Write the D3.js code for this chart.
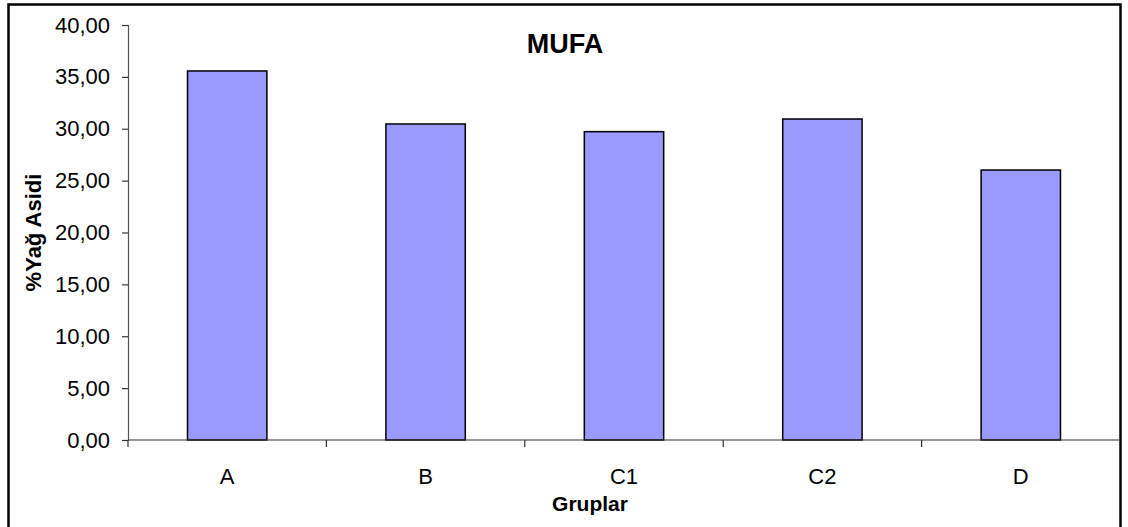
<!DOCTYPE html>
<html>
<head>
<meta charset="utf-8">
<script src="https://cdn.jsdelivr.net/npm/d3@7"></script>
<style>
  html, body { margin: 0; padding: 0; background: #fff; }
  svg { display: block; font-family: "Liberation Sans", Arial, sans-serif; }
</style>
</head>
<body>
<svg id="chart" width="1128" height="527"></svg>
<script>
// MUFA share per group
const categories = ["A", "B", "C1", "C2", "D"];
const values = [35.57, 30.46, 29.72, 30.94, 26.02];
const yTicks = [0, 5, 10, 15, 20, 25, 30, 35, 40];
const titleText = "MUFA";
const xTitle = "Gruplar";
const yTitle = "%Yağ Asidi";

const svg = d3.select("#chart");
const plot = { left: 128, right: 1120, top: 25, bottom: 440 };

// outer frame
svg.append("rect")
  .attr("x", 8.5).attr("y", 4.5)
  .attr("width", 1112).attr("height", 540)
  .attr("fill", "#fff").attr("stroke", "#000").attr("stroke-width", 2.5);

const xb = d3.scaleBand().domain(categories).range([plot.left, plot.right]);
const y = d3.scaleLinear().domain([0, 40]).range([plot.bottom, plot.top]);

const fmt = v => d3.format(".2f")(v).replace(".", ",");

// bars (gap width 150% of bar width)
svg.append("g").selectAll("rect").data(values).join("rect")
  .attr("x", (d, i) => xb(categories[i]) + xb.bandwidth() * 0.3)
  .attr("width", xb.bandwidth() * 0.4)
  .attr("y", d => y(d))
  .attr("height", d => y(0) - y(d))
  .attr("fill", "#9999FF")
  .attr("stroke", "#000")
  .attr("stroke-width", 1.5);

// y axis
const yAxis = svg.append("g")
  .attr("transform", `translate(${plot.left},0)`)
  .call(d3.axisLeft(y).tickValues(yTicks).tickFormat(fmt).tickSize(6).tickPadding(12));
yAxis.select(".domain").attr("stroke", "#555").attr("stroke-width", 1.2);
yAxis.selectAll(".tick line").attr("stroke", "#333").attr("stroke-width", 1.2);
yAxis.selectAll(".tick text")
  .attr("font-size", 22).attr("fill", "#000")
  .attr("font-family", "Liberation Sans, Arial, sans-serif");

// x axis with boundary ticks between groups
const xAxisG = svg.append("g").attr("transform", `translate(0,${plot.bottom})`);
xAxisG.append("line")
  .attr("x1", plot.left).attr("x2", plot.right)
  .attr("stroke", "#333").attr("stroke-width", 1.2);
const bounds = categories.map(c => xb(c));
xAxisG.selectAll(".bt").data(bounds).join("line")
  .attr("class", "bt")
  .attr("x1", d => d).attr("x2", d => d)
  .attr("y1", 0).attr("y2", 7)
  .attr("stroke", "#333").attr("stroke-width", 1.2);
xAxisG.selectAll(".cl").data(categories).join("text")
  .attr("class", "cl")
  .attr("x", d => xb(d) + xb.bandwidth() / 2)
  .attr("y", 44)
  .attr("text-anchor", "middle")
  .attr("font-size", 22)
  .text(d => d);

// titles
svg.append("text")
  .attr("x", 565).attr("y", 53)
  .attr("text-anchor", "middle")
  .attr("font-size", 27).attr("font-weight", "bold")
  .text(titleText);

svg.append("text")
  .attr("x", 590).attr("y", 511)
  .attr("text-anchor", "middle")
  .attr("font-size", 21).attr("font-weight", "bold")
  .text(xTitle);

svg.append("text")
  .attr("transform", `translate(41,${(plot.top + plot.bottom) / 2}) rotate(-90)`)
  .attr("text-anchor", "middle")
  .attr("font-size", 22).attr("font-weight", "bold")
  .text(yTitle);
</script>
</body>
</html>
